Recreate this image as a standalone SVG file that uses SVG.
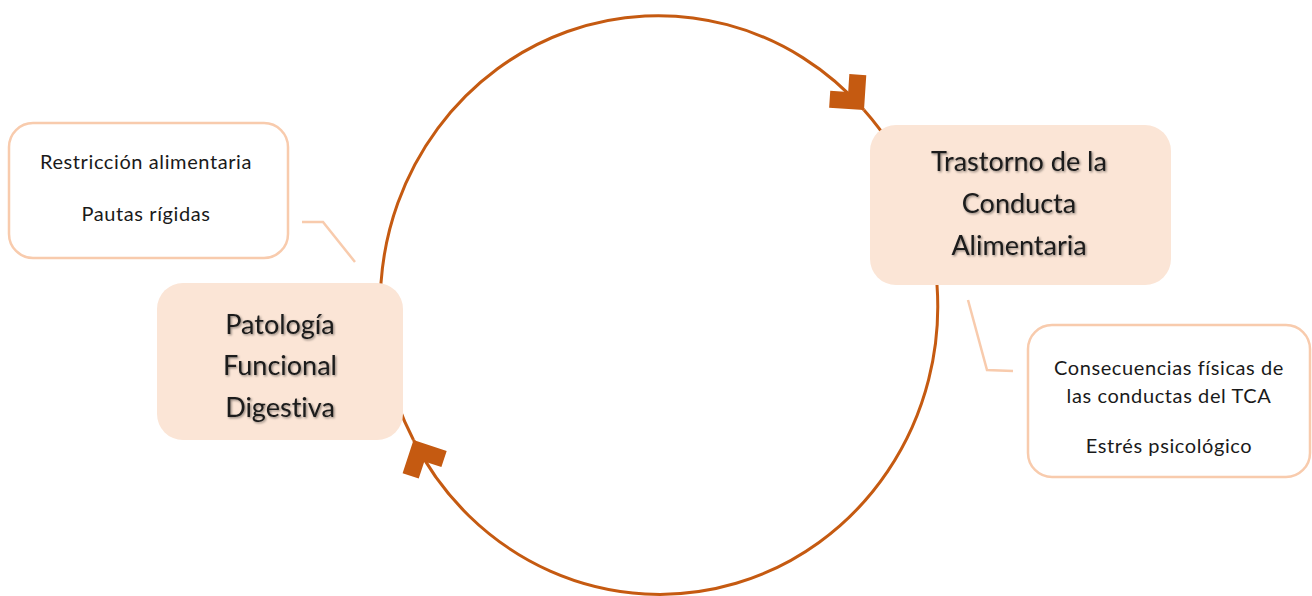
<svg xmlns="http://www.w3.org/2000/svg" width="1312" height="596" viewBox="0 0 1312 596">
<style>
.cyc{fill:none;stroke:#c55a11;stroke-width:3}
.main{fill:#fbe5d6;stroke:none}
.note{fill:#ffffff;stroke:#f8cbad;stroke-width:2.5}
.call{fill:none;stroke:#f8cbad;stroke-width:2.5}
text{font-variant-ligatures:none;font-feature-settings:"liga" 0,"clig" 0,"dlig" 0}
.mt{font-family:Lato,"Liberation Sans",sans-serif;font-size:27px;fill:#1a1a1a;text-anchor:middle;filter:url(#sh)}
.nt{font-family:Lato,"Liberation Sans",sans-serif;font-size:20px;letter-spacing:0.6px;fill:#1a1a1a;text-anchor:middle}
</style>
<defs>
<filter id="sh" x="-10%" y="-30%" width="120%" height="160%">
<feDropShadow dx="1.2" dy="1.2" stdDeviation="1" flood-color="#000" flood-opacity="0.45"/>
</filter>
<marker id="ah" markerUnits="userSpaceOnUse" orient="auto" markerWidth="80" markerHeight="80" refX="0" refY="0" viewBox="-40 -40 80 80" overflow="visible">
<polygon points="0,0 -24.7,24.7 -36.7,12.7 -24,0 -36.7,-12.7 -24.7,-24.7" fill="#c55a11"/>
</marker>
</defs>
<g id="connectors">
<path class="cyc" d="M381 283 A278 288 0 0 1 864 110" marker-end="url(#ah)"/>
<path class="cyc" d="M864 110 A278 288 0 0 1 937 285"/>
<path class="cyc" d="M937 285 A278 288 0 0 1 413.5 440" marker-end="url(#ah)"/>
<path class="cyc" d="M413.5 440 A278 288 0 0 1 381 283"/>
<polyline class="call" points="302,222 323,222 355,262"/>
<polyline class="call" points="968,300 987,370 1013,371"/>
</g>
<g id="node-tca">
<rect class="main" x="870" y="125" width="301" height="160" rx="26"/>
<text class="mt" x="1019" y="171">Trastorno de la</text>
<text class="mt" x="1019" y="213">Conducta</text>
<text class="mt" x="1019" y="255">Alimentaria</text>
</g>
<g id="node-pfd">
<rect class="main" x="157" y="283" width="246" height="157" rx="26"/>
<text class="mt" x="280" y="334">Patología</text>
<text class="mt" x="280" y="375">Funcional</text>
<text class="mt" x="280" y="417">Digestiva</text>
</g>
<g id="note-left">
<rect class="note" x="9" y="123" width="279" height="135" rx="24"/>
<text class="nt" x="146" y="169">Restricción alimentaria</text>
<text class="nt" x="146" y="221">Pautas rígidas</text>
</g>
<g id="note-right">
<rect class="note" x="1028" y="325" width="282" height="152" rx="24"/>
<text class="nt" x="1169" y="375">Consecuencias físicas de</text>
<text class="nt" x="1169" y="403">las conductas del TCA</text>
<text class="nt" x="1169" y="453">Estrés psicológico</text>
</g>
</svg>
